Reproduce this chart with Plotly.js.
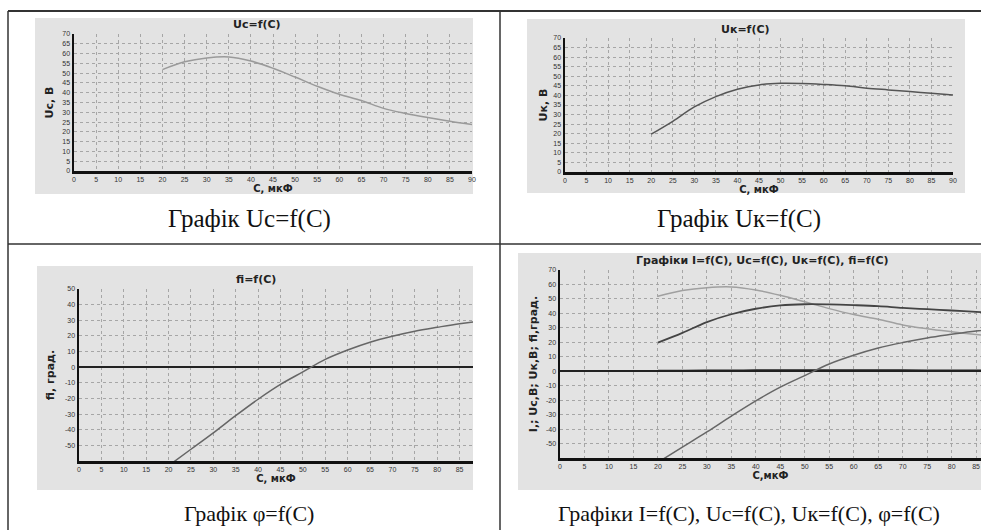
<!DOCTYPE html>
<html>
<head>
<meta charset="utf-8">
<script src="https://cdn.plot.ly/plotly-3.0.1.min.js"></script>
<style>
html,body{margin:0;padding:0;background:#fff;}
#chart{width:981px;height:530px;}
</style>
</head>
<body>
<div id="chart"></div>
<script>
// Capacitance values, мкФ
var C = [20, 25, 30, 35, 40, 45, 50, 55, 60, 65, 70, 75, 80, 85, 90];
// Voltage on capacitor Uc, В
var Uc = [51.8, 55.8, 57.8, 58.3, 56.2, 52.5, 48.0, 43.3, 39.2, 36.0, 32.0, 29.4, 27.3, 25.4, 23.7];
// Voltage on coil Uк, В
var Uk = [19.8, 26.5, 34.0, 39.4, 43.2, 45.5, 46.3, 46.2, 45.7, 45.0, 43.8, 42.9, 42.0, 41.1, 40.2];
// Phase angle fi, град.
var fi = [-63.0, -52.5, -42.0, -31.0, -20.5, -11.0, -3.0, 5.0, 11.0, 16.0, 19.8, 23.0, 25.5, 27.8, 29.5];
// Current I (drawn near zero on the combined chart)
var I = [0.3, 0.4, 0.5, 0.55, 0.6, 0.62, 0.63, 0.63, 0.62, 0.61, 0.6, 0.59, 0.58, 0.57, 0.56];

var captions = ["Графік Uc=f(C)", "Графік Uк=f(C)", "Графік φ=f(C)", "Графіки I=f(C), Uc=f(C), Uк=f(C), φ=f(C)"];
var chartTitles = ["Uc=f(C)", "Uк=f(C)", "fi=f(C)", "Графіки I=f(C), Uc=f(C), Uк=f(C), fi=f(C)"];
var xTitles = ["С, мкФ", "С, мкФ", "С, мкФ", "С,мкФ"];
var yTitles = ["Uc, В", "Uк, В", "fi, град.", "I,; Uc,В; Uк,В; fi,град."];

function range(a, b, s) { var r = []; for (var v = a; v <= b + 1e-9; v += s) r.push(v); return r; }

var W = 981, H = 530;
function px(x) { return x / W; }
function py(y) { return 1 - y / H; }

var traces = [
  {x: C, y: Uc, xaxis: 'x', yaxis: 'y', mode: 'lines', line: {color: '#9a9a9a', width: 1.5, shape: 'spline'}, name: 'Uc'},
  {x: C, y: Uk, xaxis: 'x2', yaxis: 'y2', mode: 'lines', line: {color: '#555555', width: 1.5, shape: 'spline'}, name: 'Uк'},
  {x: C, y: fi, xaxis: 'x3', yaxis: 'y3', mode: 'lines', line: {color: '#666666', width: 1.5, shape: 'spline'}, name: 'fi'},
  {x: C, y: I, xaxis: 'x4', yaxis: 'y4', mode: 'lines', line: {color: '#222222', width: 2, shape: 'spline'}, name: 'I'},
  {x: C, y: Uc, xaxis: 'x4', yaxis: 'y4', mode: 'lines', line: {color: '#a0a0a0', width: 1.5, shape: 'spline'}, name: 'Uc'},
  {x: C, y: Uk, xaxis: 'x4', yaxis: 'y4', mode: 'lines', line: {color: '#444444', width: 1.8, shape: 'spline'}, name: 'Uк'},
  {x: C, y: fi, xaxis: 'x4', yaxis: 'y4', mode: 'lines', line: {color: '#666666', width: 1.5, shape: 'spline'}, name: 'fi'}
];

var tickFont = {family: 'Arial, Liberation Sans', size: 7, color: '#333'};
var titleFontX = {family: 'DejaVu Sans', size: 10, color: '#222', weight: 'bold'};
var titleFontY = {family: 'DejaVu Sans', size: 11, color: '#222', weight: 'bold'};

function xa(domain, anchor, rng, vals, title) {
  return {domain: domain, anchor: anchor, range: rng, tickvals: vals, ticktext: vals.map(String), tickfont: tickFont,
    showgrid: true, gridcolor: '#a6a6a6', griddash: 'dot', gridwidth: 1,
    showline: true, linecolor: '#111', linewidth: 2.5, zeroline: false, ticks: '', ticklen: 0,
    title: {text: title, font: titleFontX, standoff: 2}, automargin: false, fixedrange: true};
}
function ya(domain, anchor, rng, vals, title, zero) {
  return {domain: domain, anchor: anchor, range: rng, tickvals: vals, ticktext: vals.map(String), tickfont: tickFont,
    showgrid: true, gridcolor: '#a6a6a6', griddash: 'dot', gridwidth: 1,
    showline: true, linecolor: '#111', linewidth: 2.5, zeroline: !!zero, zerolinecolor: '#222', zerolinewidth: 1.5,
    ticks: '', ticklen: 0, title: {text: title, font: titleFontY, standoff: 4}, automargin: false, fixedrange: true};
}

var boxColor = '#e3e3e3';
var shapes = [
  // grey picture backgrounds
  {type: 'rect', xref: 'paper', yref: 'paper', x0: px(35), x1: px(473), y0: py(194), y1: py(18), fillcolor: boxColor, line: {width: 0}, layer: 'below'},
  {type: 'rect', xref: 'paper', yref: 'paper', x0: px(527), x1: px(965), y0: py(193), y1: py(19), fillcolor: boxColor, line: {width: 0}, layer: 'below'},
  {type: 'rect', xref: 'paper', yref: 'paper', x0: px(37), x1: px(473), y0: py(490), y1: py(266), fillcolor: boxColor, line: {width: 0}, layer: 'below'},
  {type: 'rect', xref: 'paper', yref: 'paper', x0: px(518), x1: px(981), y0: py(490), y1: py(253), fillcolor: boxColor, line: {width: 0}, layer: 'below'},
  // table lines
  {type: 'line', xref: 'paper', yref: 'paper', x0: px(8), x1: 1, y0: py(11), y1: py(11), line: {color: '#333', width: 2}},
  {type: 'line', xref: 'paper', yref: 'paper', x0: px(8), x1: px(8), y0: py(11), y1: 0, line: {color: '#333', width: 1.5}},
  {type: 'line', xref: 'paper', yref: 'paper', x0: px(500), x1: px(500), y0: py(11), y1: 0, line: {color: '#333', width: 1.5}},
  {type: 'line', xref: 'paper', yref: 'paper', x0: px(8), x1: 1, y0: py(244), y1: py(244), line: {color: '#333', width: 1.5}}
];

var capFontTop = {family: 'Liberation Serif, Times New Roman, serif', size: 25, color: '#111'};
var capFontBottom = {family: 'Liberation Serif, Times New Roman, serif', size: 22, color: '#111'};
var ttlFont = {family: 'DejaVu Sans', size: 11, color: '#222', weight: 'bold'};
function ann(text, x, y, font) {
  return {text: text, x: px(x), y: py(y), xref: 'paper', yref: 'paper', xanchor: 'center', yanchor: 'middle', showarrow: false, font: font};
}
var annotations = [
  ann(captions[0], 249, 219, capFontTop),
  ann(captions[1], 739, 219, capFontTop),
  ann(captions[2], 249, 513, capFontBottom),
  ann(captions[3], 749, 513, capFontBottom),
  ann(chartTitles[0], 257, 25, ttlFont),
  ann(chartTitles[1], 745, 30, ttlFont),
  ann(chartTitles[2], 256, 279, ttlFont),
  ann(chartTitles[3], 762, 260, ttlFont)
];

var layout = {
  width: W, height: H,
  margin: {l: 0, r: 0, t: 0, b: 0, pad: 0},
  paper_bgcolor: '#ffffff',
  plot_bgcolor: 'rgba(0,0,0,0)',
  showlegend: false,
  font: {family: 'Arial, Liberation Sans', color: '#222'},
  xaxis:  xa([px(74), px(472)], 'y', [0, 90], range(0, 90, 5), xTitles[0]),
  yaxis:  ya([py(171), py(34)], 'x', [0, 70], range(0, 70, 5), yTitles[0]),
  xaxis2: xa([px(565), px(953)], 'y2', [0, 90], range(0, 90, 5), xTitles[1]),
  yaxis2: ya([py(172), py(38)], 'x2', [0, 70], range(0, 70, 5), yTitles[1]),
  xaxis3: xa([px(79), px(473)], 'y3', [0, 88], range(0, 85, 5), xTitles[2]),
  yaxis3: ya([py(461), py(289)], 'x3', [-60, 50], range(-50, 50, 10), yTitles[2], true),
  xaxis4: xa([px(560), 1], 'y4', [0, 86], range(0, 85, 5), xTitles[3]),
  yaxis4: ya([py(458), py(270)], 'x4', [-60, 70], range(-50, 70, 10), yTitles[3], true),
  shapes: shapes,
  annotations: annotations
};
layout.yaxis.title.standoff = 7;
layout.yaxis3.title.standoff = 8;
layout.yaxis4.title.standoff = 6;

Plotly.newPlot('chart', traces, layout, {displayModeBar: false, staticPlot: true});
</script>
</body>
</html>
